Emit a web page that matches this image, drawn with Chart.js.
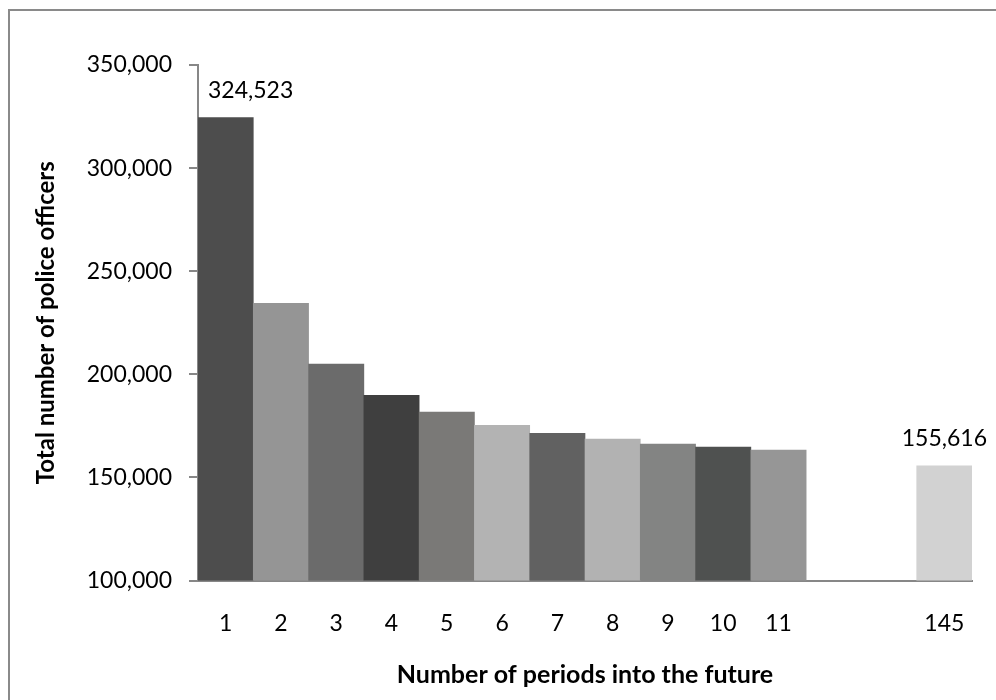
<!DOCTYPE html>
<html>
<head>
<meta charset="utf-8">
<script src="https://cdn.jsdelivr.net/npm/chart.js@4.4.1/dist/chart.umd.min.js"></script>
<style>
  html, body { margin: 0; padding: 0; background: #ffffff; }
  #wrap { width: 996px; height: 700px; }
</style>
</head>
<body>
<div id="wrap"><canvas id="chart" width="996" height="700"></canvas></div>
<script>
// Periods into the future (two unlabelled slots separate period 11 from period 145)
const periods = ['1', '2', '3', '4', '5', '6', '7', '8', '9', '10', '11', '', '', '145'];

// Total number of police officers for each period
const officers = [324523, 234400, 205000, 189800, 181700, 175300, 171400, 168600, 166200, 164700, 163300, null, null, 155616];

// Fill shade of each bar
const barColors = ['#4d4d4d', '#959595', '#6b6b6b', '#3f3f3f', '#7a7977', '#b3b3b3', '#616161', '#b2b2b2', '#838483', '#4f5150', '#969696', '#ffffff', '#ffffff', '#d2d2d2'];

// Y axis range and step
const yMin = 100000;
const yMax = 350000;
const yStep = 50000;

// Periods whose bars carry a value label
const labelledPeriods = ['1', '145'];

const FONT = "Lato, 'Open Sans', sans-serif";
const AXIS_GRAY = '#878787';

const fmt = v => Number(v).toLocaleString('en-US');

// Outer frame of the chart
const framePlugin = {
  id: 'frame',
  beforeDraw(chart) {
    const ctx = chart.ctx;
    ctx.save();
    ctx.fillStyle = '#ffffff';
    ctx.fillRect(0, 0, chart.width, chart.height);
    ctx.strokeStyle = '#8a8a8a';
    ctx.lineWidth = 2;
    ctx.strokeRect(9, 10, chart.width + 20, chart.height + 20);
    ctx.restore();
  }
};

// Value labels above the selected bars
const valueLabelPlugin = {
  id: 'valueLabels',
  afterDatasetsDraw(chart) {
    const ctx = chart.ctx;
    const meta = chart.getDatasetMeta(0);
    ctx.save();
    ctx.font = '23px ' + FONT;
    ctx.fillStyle = '#000000';
    ctx.textAlign = 'center';
    ctx.textBaseline = 'middle';
    periods.forEach((p, i) => {
      if (!labelledPeriods.includes(p)) return;
      const bar = meta.data[i];
      const v = officers[i];
      if (!bar || v == null) return;
      // the first label sits right of its bar so it clears the value axis
      const dx = i === 0 ? 25 : 0;
      ctx.fillText(fmt(v), bar.x + dx, bar.y - 27);
    });
    ctx.restore();
  }
};

new Chart(document.getElementById('chart'), {
  type: 'bar',
  data: {
    labels: periods,
    datasets: [{
      data: officers,
      backgroundColor: barColors,
      borderWidth: 0,
      barPercentage: 1.0,
      categoryPercentage: 1.0
    }]
  },
  options: {
    responsive: false,
    animation: false,
    devicePixelRatio: 1,
    layout: { padding: { left: 19, top: 65, right: 24, bottom: 0 } },
    plugins: {
      legend: { display: false },
      tooltip: { enabled: false },
      title: { display: false }
    },
    scales: {
      x: {
        grid: { display: false, drawTicks: false },
        border: { display: true, color: AXIS_GRAY, width: 2 },
        ticks: {
          color: '#000000',
          font: { family: FONT, size: 23 },
          padding: 29,
          maxRotation: 0,
          autoSkip: false
        },
        title: {
          display: true,
          text: 'Number of periods into the future',
          color: '#000000',
          font: { family: FONT, size: 25, weight: 'bold' },
          padding: { top: 10, bottom: 10 }
        },
        afterFit(scale) { scale.height = 119.5; }
      },
      y: {
        min: yMin,
        max: yMax,
        grid: {
          display: true,
          drawOnChartArea: false,
          drawTicks: true,
          tickLength: 9,
          color: AXIS_GRAY,
          lineWidth: 2
        },
        border: { display: true, color: AXIS_GRAY, width: 2 },
        ticks: {
          stepSize: yStep,
          color: '#000000',
          font: { family: FONT, size: 23 },
          padding: 17,
          callback: v => fmt(v)
        },
        title: {
          display: true,
          text: 'Total number of police officers',
          color: '#000000',
          font: { family: FONT, size: 24, weight: 'bold' },
          padding: { top: 13, bottom: 13 }
        },
        afterFit(scale) { scale.width = 179; }
      }
    }
  },
  plugins: [framePlugin, valueLabelPlugin]
});
</script>
</body>
</html>
